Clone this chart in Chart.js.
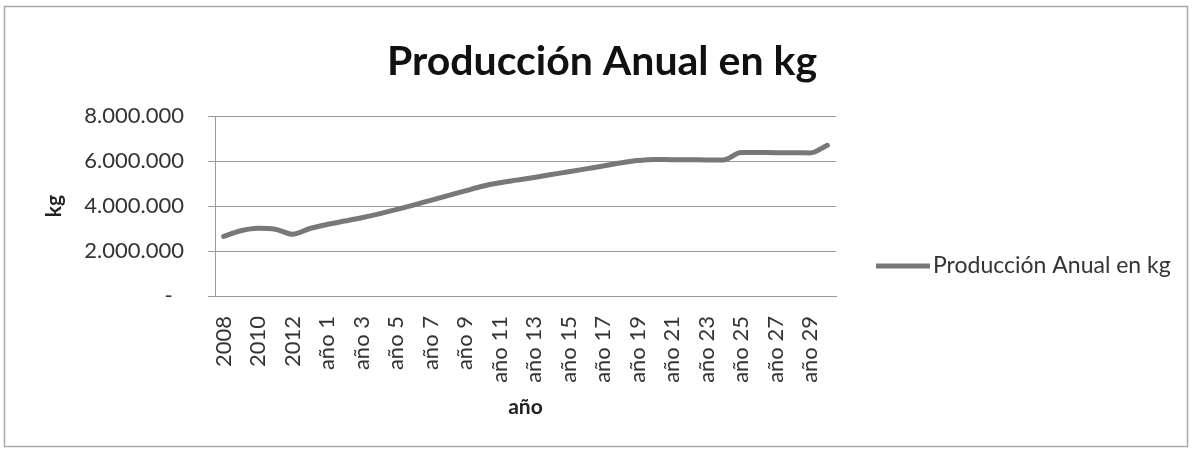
<!DOCTYPE html>
<html>
<head>
<meta charset="utf-8">
<script src="https://cdn.jsdelivr.net/npm/chart.js@4.4.1/dist/chart.umd.min.js"></script>
<style>
  html, body { margin: 0; padding: 0; background: #ffffff; }
  #wrap { width: 1192px; height: 451px; }
</style>
</head>
<body>
<div id="wrap"><canvas id="c" width="1192" height="451"></canvas></div>
<script>
const categories = ['2008', '2009', '2010', '2011', '2012', '2013',
  'año 1', 'año 2', 'año 3', 'año 4', 'año 5', 'año 6', 'año 7', 'año 8', 'año 9', 'año 10',
  'año 11', 'año 12', 'año 13', 'año 14', 'año 15', 'año 16', 'año 17', 'año 18', 'año 19', 'año 20',
  'año 21', 'año 22', 'año 23', 'año 24', 'año 25', 'año 26', 'año 27', 'año 28', 'año 29', 'año 30'];
const produccion = [2650000, 2900000, 3010000, 2970000, 2740000, 3000000,
  3180000, 3330000, 3480000, 3650000, 3840000, 4040000, 4250000, 4460000, 4670000, 4880000,
  5030000, 5150000, 5270000, 5400000, 5520000, 5650000, 5780000, 5910000, 6020000, 6070000,
  6060000, 6060000, 6050000, 6050000, 6380000, 6380000, 6370000, 6370000, 6360000, 6700000];
const yTicks = [0, 2000000, 4000000, 6000000, 8000000];
const seriesName = 'Producción Anual en kg';
const chartTitle = 'Producción Anual en kg';
const xTitle = 'año';
const yTitle = 'kg';

const FONT = 'Lato, "Open Sans", sans-serif';
const LINE_COLOR = '#787878';
const GRID = '#9a9a9a';

function fmt(v) {
  if (v === 0) return '-  ';
  return String(v).replace(/\B(?=(\d{3})+(?!\d))/g, '.');
}

const framePlugin = {
  id: 'frame',
  beforeDraw(chart) {
    const ctx = chart.ctx;
    ctx.save();
    ctx.fillStyle = '#ffffff';
    ctx.fillRect(0, 0, chart.width, chart.height);
    ctx.strokeStyle = '#a8a8a8';
    ctx.lineWidth = 1.5;
    ctx.strokeRect(4.5, 6.5, 1183, 440);
    ctx.restore();
  }
};

const legendPlugin = {
  id: 'sideLegend',
  afterDraw(chart) {
    const ctx = chart.ctx;
    const ds = chart.data.datasets[0];
    const x0 = chart.chartArea.right + 40;
    const y = 266;
    ctx.save();
    ctx.strokeStyle = ds.borderColor;
    ctx.lineWidth = ds.borderWidth;
    ctx.beginPath();
    ctx.moveTo(x0, y);
    ctx.lineTo(x0 + 54, y);
    ctx.stroke();
    ctx.fillStyle = '#333333';
    ctx.font = '23px ' + FONT;
    ctx.textAlign = 'left';
    ctx.textBaseline = 'middle';
    ctx.fillText(ds.label, x0 + 57, y);
    ctx.restore();
  }
};

new Chart(document.getElementById('c'), {
  type: 'line',
  data: {
    labels: categories,
    datasets: [{
      label: seriesName,
      data: produccion,
      borderColor: LINE_COLOR,
      backgroundColor: LINE_COLOR,
      borderWidth: 5,
      pointRadius: 0,
      cubicInterpolationMode: 'monotone',
      borderCapStyle: 'round',
      borderJoinStyle: 'round',
      fill: false
    }]
  },
  options: {
    responsive: false,
    animation: false,
    devicePixelRatio: 1,
    layout: { padding: { left: 14, right: 2, top: 0, bottom: 10 } },
    plugins: {
      legend: { display: false },
      tooltip: { enabled: false },
      title: {
        display: true,
        text: chartTitle,
        color: '#111111',
        font: { family: FONT, size: 41, weight: 'bold' },
        padding: { top: 37.4, bottom: 29.4 }
      }
    },
    scales: {
      x: {
        type: 'category',
        offset: true,
        grid: { display: false, drawTicks: false },
        border: { display: true, color: GRID, width: 1 },
        ticks: {
          autoSkip: false,
          maxRotation: 90,
          minRotation: 90,
          padding: 20,
          color: '#333333',
          font: { family: FONT, size: 22 },
          callback: function (val, idx) { return idx % 2 === 0 ? this.getLabelForValue(val) : ''; }
        },
        title: {
          display: true,
          text: xTitle,
          color: '#222222',
          font: { family: FONT, size: 21, weight: 'bold' },
          padding: { top: 0, bottom: 21 }
        },
        afterFit(scale) { scale.height = 145; }
      },
      y: {
        min: 0,
        max: 8000000,
        afterBuildTicks(scale) { scale.ticks = yTicks.map(v => ({ value: v })); },
        grid: { color: GRID, lineWidth: 1, drawTicks: true, tickLength: 7, tickColor: GRID },
        border: { display: true, color: GRID, width: 1 },
        ticks: {
          padding: 24,
          color: '#333333',
          font: { family: FONT, size: 22 },
          callback: (v) => fmt(v)
        },
        title: {
          display: true,
          text: yTitle,
          color: '#222222',
          font: { family: FONT, size: 21, weight: 'bold' },
          padding: { top: 28, bottom: 0 }
        },
        afterFit(scale) { scale.width = 201; }
      },
      yR: {
        position: 'right',
        display: true,
        grid: { display: false, drawTicks: false },
        border: { display: false },
        ticks: { display: false },
        afterFit(scale) { scale.width = 354; }
      }
    }
  },
  plugins: [framePlugin, legendPlugin]
});
</script>
</body>
</html>
